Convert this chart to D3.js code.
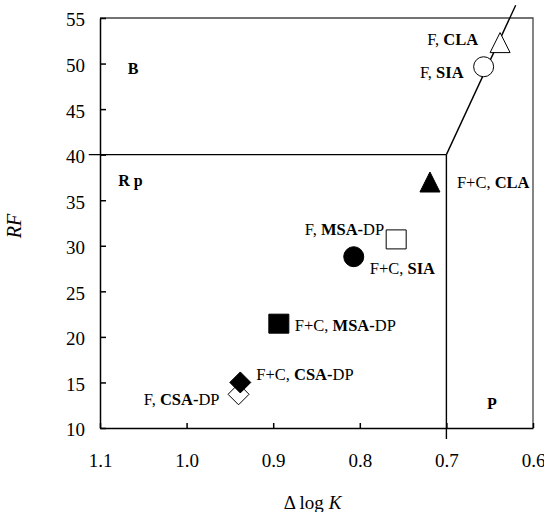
<!DOCTYPE html>
<html>
  <head>
    <meta charset="utf-8">
    <title>RF vs delta log K</title>
    <script src="https://d3js.org/d3.v7.min.js"></script>
    <style>
      body { margin: 0; background: #fff; }
      svg { display: block; font-family: "Liberation Serif", "Times New Roman", serif; }
      .axis path, .axis line { stroke: #000; stroke-width: 1.5; }
      .axis text { font-family: "Liberation Serif", "Times New Roman", serif; font-size: 19px; fill: #000; }
    </style>
  </head>
  <body>
    <svg width="544" height="512"></svg>
    <script>
      // data
      var xTicks = [1.1, 1.0, 0.9, 0.8, 0.7, 0.6];
      var yTicks = [10, 15, 20, 25, 30, 35, 40, 45, 50, 55];
      var names = ["F, CLA", "F, SIA", "F+C, CLA", "F, MSA-DP", "F+C, SIA", "F+C, MSA-DP", "F+C, CSA-DP", "F, CSA-DP"];
      var dlogK = [0.638, 0.657, 0.719, 0.758, 0.807, 0.8935, 0.938, 0.940];
      var rf    = [52.3, 49.65, 37.0, 30.7, 28.8, 21.45, 15.0, 13.7];
      var shapes = ["triangle", "circle", "triangle", "square", "circle", "square", "diamond", "diamond"];
      var filled = [false, false, true, false, true, true, true, false];
      // boundary lines between the regions
      var boundaries = [
        [[1.113, 40], [0.7, 40]],
        [[0.7, 40], [0.7, 8.8]],
        [[0.7, 40], [0.62, 56.4]]
      ];
      var regions = ["B", "R p", "P"];
      var regionAt = [[1.068, 48.85], [1.079, 36.6], [0.653, 12.1]];

      // label placement relative to each marker (px): dx, dy, anchor
      var labelPos = [
        [-22, 2, "end"], [-20, 11, "end"], [27, 6, "start"], [-12, -4, "end"],
        [16, 17, "start"], [16, 7, "start"], [16, -2, "start"], [-19, 11, "end"]
      ];

      var svg = d3.select("svg");
      var padL = 100, padR = 533, padT = 18, padB = 428;

      var x = d3.scaleLinear().domain([1.1, 0.6]).range([padL, padR]);
      var y = d3.scaleLinear().domain([10, 55]).range([padB, padT]);

      // box top / right
      svg.append("path")
        .attr("d", "M" + padL + "," + padT + "H" + padR + "V" + padB)
        .attr("fill", "none")
        .attr("stroke", "#444")
        .attr("stroke-width", 1.3);

      var xAxis = svg.append("g")
        .attr("class", "axis")
        .attr("transform", "translate(0," + padB + ")")
        .call(d3.axisBottom(x).tickValues(xTicks).tickFormat(d3.format(".1f"))
          .tickSizeInner(-5).tickSizeOuter(0).tickPadding(26));
      xAxis.selectAll("text").attr("dy", "0.71em");

      var yAxis = svg.append("g")
        .attr("class", "axis")
        .attr("transform", "translate(" + padL + ",0)")
        .call(d3.axisLeft(y).tickValues(yTicks).tickFormat(d3.format("d"))
          .tickSizeInner(-6).tickSizeOuter(0).tickPadding(15));
      yAxis.selectAll("text").attr("dy", "0.42em");

      // axis titles
      svg.append("text")
        .attr("transform", "translate(21,226) rotate(-90)")
        .attr("text-anchor", "middle")
        .attr("font-size", 20)
        .attr("font-style", "italic")
        .text("RF");

      var xt = svg.append("text")
        .attr("x", (padL + padR) / 2 - 4)
        .attr("y", 509)
        .attr("text-anchor", "middle")
        .attr("font-size", 19);
      xt.append("tspan").text("\u0394  log ");
      xt.append("tspan").attr("font-style", "italic").text("K");

      // region boundaries
      var line = d3.line().x(function(d) { return x(d[0]); }).y(function(d) { return y(d[1]); });
      svg.selectAll(".bound")
        .data(boundaries)
        .enter().append("path")
        .attr("class", "bound")
        .attr("d", line)
        .attr("fill", "none")
        .attr("stroke", "#000")
        .attr("stroke-width", 1.4);

      // region names
      svg.selectAll(".region")
        .data(regions)
        .enter().append("text")
        .attr("class", "region")
        .attr("x", function(d, i) { return x(regionAt[i][0]); })
        .attr("y", function(d, i) { return y(regionAt[i][1]); })
        .attr("font-size", 16)
        .attr("font-weight", "bold")
        .text(function(d) { return d; });

      function markerPath(shape) {
        if (shape == "circle") return "M-10,0A10,10 0 1,0 10,0A10,10 0 1,0 -10,0Z";
        if (shape == "square") return "M-10,-9.5H10V9.5H-10Z";
        if (shape == "diamond") return "M0,-10.5L10.5,0L0,10.5L-10.5,0Z";
        return "M0,-10L10,10H-10Z";
      }

      // draw open diamond before the filled one so it sits behind
      var order = d3.range(names.length).sort(function(a, b) { return filled[a] - filled[b]; });
      svg.selectAll(".pt")
        .data(order)
        .enter().append("path")
        .attr("class", "pt")
        .attr("transform", function(i) { return "translate(" + x(dlogK[i]) + "," + y(rf[i]) + ")"; })
        .attr("d", function(i) { return markerPath(shapes[i]); })
        .attr("fill", function(i) { return filled[i] ? "#000" : "#fff"; })
        .attr("stroke", "#000")
        .attr("stroke-width", 1);

      // point labels: "F" / "F+C", bold sample code, plain "DP"
      var labels = svg.selectAll(".lab")
        .data(names)
        .enter().append("text")
        .attr("class", "lab")
        .attr("x", function(d, i) { return x(dlogK[i]) + labelPos[i][0]; })
        .attr("y", function(d, i) { return y(rf[i]) + labelPos[i][1]; })
        .attr("text-anchor", function(d, i) { return labelPos[i][2]; })
        .attr("font-size", 16.5);
      labels.each(function(d) {
        var t = d3.select(this);
        var parts = d.split(", ");
        t.append("tspan").text(parts[0] + ", ");
        var code = parts[1];
        if (code.indexOf("-DP") >= 0) {
          t.append("tspan").attr("font-weight", "bold").text(code.replace("DP", ""));
          t.append("tspan").text("DP");
        } else {
          t.append("tspan").attr("font-weight", "bold").text(code);
        }
      });
    </script>
  </body>
</html>
